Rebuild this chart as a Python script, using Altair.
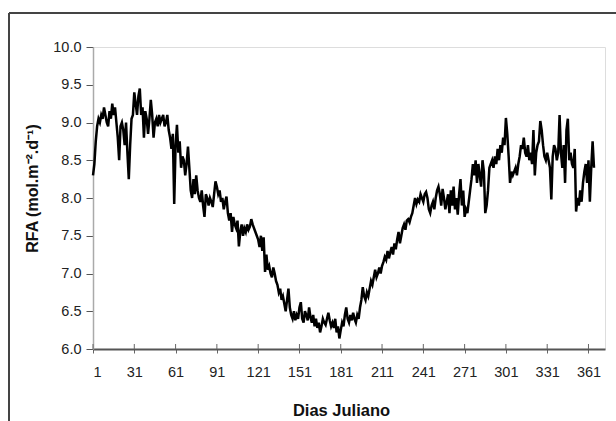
import altair as alt
import pandas as pd

# Daily photosynthetically active radiation (RFA), Julian days 1-365
rfa = [
    8.30, 8.45, 8.75, 8.95, 9.05, 9.00, 9.10, 9.05, 9.20, 9.10,
    9.00, 8.95, 9.15, 9.05, 9.25, 9.10, 9.20, 9.00, 8.80, 8.50,
    8.95, 9.00, 8.90, 8.70, 9.00, 8.60, 8.25, 8.70, 9.05, 9.10,
    9.40, 9.25, 9.10, 9.35, 9.45, 9.10, 9.20, 8.80, 9.15, 9.05,
    8.85, 9.05, 9.30, 9.10, 8.80, 9.00, 9.05, 8.95, 9.10, 9.00,
    9.05, 9.10, 8.95, 9.00, 9.10, 8.90, 8.80, 8.65, 8.85, 7.92,
    8.70, 8.97, 8.60, 8.75, 8.40, 8.55, 8.50, 8.30, 8.45, 8.68,
    8.40, 8.10, 8.00, 8.25, 8.05, 8.30, 8.10, 8.00, 7.95, 8.10,
    7.90, 7.75, 8.05, 8.00, 7.90, 8.00, 7.95, 7.88, 8.05, 8.22,
    8.15, 8.05, 8.10, 7.95, 8.00, 7.85, 7.95, 8.02, 7.80, 7.70,
    7.80, 7.55, 7.75, 7.65, 7.60, 7.70, 7.36, 7.55, 7.65, 7.50,
    7.60, 7.55, 7.65, 7.58, 7.62, 7.72, 7.65, 7.60, 7.55, 7.50,
    7.45, 7.35, 7.50, 7.30, 7.48, 7.02, 7.25, 7.05, 7.10, 7.00,
    6.95, 7.08, 7.00, 6.90, 6.85, 6.75, 6.80, 6.65, 6.70, 6.60,
    6.50, 6.65, 6.80, 6.55, 6.45, 6.40, 6.50, 6.38, 6.45, 6.40,
    6.55, 6.62, 6.40, 6.35, 6.50, 6.45, 6.38, 6.55, 6.42, 6.35,
    6.45, 6.30, 6.40, 6.28, 6.35, 6.22, 6.30, 6.40, 6.35, 6.32,
    6.40, 6.48, 6.38, 6.30, 6.35, 6.28, 6.40, 6.22, 6.30, 6.14,
    6.25, 6.35, 6.30, 6.45, 6.55, 6.40, 6.35, 6.45, 6.38, 6.48,
    6.40, 6.35, 6.45, 6.40, 6.55, 6.65, 6.82, 6.70, 6.65, 6.75,
    6.70, 6.80, 6.90, 6.85, 6.95, 7.05, 6.95, 7.00, 7.08, 7.00,
    7.10, 7.15, 7.22, 7.18, 7.30, 7.20, 7.28, 7.35, 7.25, 7.40,
    7.32, 7.45, 7.55, 7.40, 7.50, 7.60, 7.65, 7.58, 7.70, 7.72,
    7.68, 7.75, 7.80, 7.90, 8.00, 7.92, 7.98, 7.95, 8.05, 8.00,
    7.95, 8.05, 8.08, 8.00, 7.85, 7.80, 7.90, 7.95, 7.85, 8.00,
    8.10, 8.15, 8.05, 7.90, 8.12, 8.00, 7.85, 7.95, 8.05, 7.80,
    8.10, 7.90, 8.15, 7.85, 8.00, 7.78, 8.05, 8.25, 7.90, 8.10,
    7.75, 7.85, 7.80, 7.95, 8.10, 8.25, 8.45, 8.30, 8.50, 8.20,
    8.45, 8.30, 8.15, 8.50, 8.35, 7.80, 7.90, 8.10, 8.40, 8.45,
    8.50, 8.40, 8.55, 8.45, 8.65, 8.50, 8.70, 8.60, 8.80, 8.70,
    9.06, 8.85, 8.55, 8.20, 8.35, 8.30, 8.35, 8.40, 8.30, 8.45,
    8.55, 8.70, 8.65, 8.80, 8.60, 8.55, 8.70, 8.50, 8.60, 8.45,
    8.90, 8.30, 8.60, 8.70, 8.75, 9.02, 8.90, 8.70, 8.55, 8.50,
    8.60, 8.50, 8.40, 7.98, 8.55, 8.70, 8.65, 8.50, 8.60, 9.10,
    8.60, 8.40, 8.70, 8.20, 8.90, 9.05, 8.50, 8.60, 8.45, 8.40,
    8.65, 7.82, 8.00, 7.90, 8.10, 7.95, 8.20, 8.35, 8.45, 8.20,
    8.50, 7.95, 8.40, 8.75, 8.40,
]
days = list(range(1, len(rfa) + 1))
x_ticks = list(range(1, 362, 30))
y_ticks = [6.0, 6.5, 7.0, 7.5, 8.0, 8.5, 9.0, 9.5, 10.0]

df = pd.DataFrame({"dia": days, "rfa": rfa})
ticks_df = pd.DataFrame({"dia": x_ticks})

FONT = "Liberation Sans"
x_scale = alt.Scale(domain=[1, 373], nice=False, zero=False)
y_scale = alt.Scale(domain=[6.0, 10.0], nice=False, zero=False)

line = alt.Chart(df).mark_line(color="black", strokeWidth=2.5).encode(
    x=alt.X(
        "dia:Q",
        scale=x_scale,
        axis=alt.Axis(
            values=x_ticks,
            title="Dias Juliano",
            titleFontSize=16.5,
            titleFontWeight="bold",
            titleColor="#111",
            titlePadding=24,
            titleX=248,
            labelFontSize=14.5,
            labelColor="#222",
            labelPadding=12,
            labelOverlap=False,
            domainColor="#555",
            domainWidth=2,
            tickColor="#666",
            tickSize=4,
            grid=False,
        ),
    ),
    y=alt.Y(
        "rfa:Q",
        scale=y_scale,
        axis=alt.Axis(
            values=y_ticks,
            tickCount=9,
            format=".1f",
            title="RFA (mol.m⁻².d⁻¹)",
            titleFontSize=16,
            titleFontWeight="bold",
            titleColor="#111",
            titlePadding=12,
            titleY=141,
            labelFontSize=14.5,
            labelColor="#222",
            labelPadding=5,
            labelOverlap=False,
            domainColor="#aaa",
            domainWidth=1.5,
            tickColor="#555",
            tickSize=7,
            grid=False,
        ),
    ),
)

# upper half of the crossing tick marks on the day axis
inner_ticks = alt.Chart(ticks_df).mark_rule(color="#666", strokeWidth=1).encode(
    x=alt.X("dia:Q", scale=x_scale),
    y=alt.value(302),
    y2=alt.value(297),
)

# outer frame around the figure (left and top edges)
frame_left = alt.Chart(ticks_df).mark_rule(color="#444", strokeWidth=2).encode(
    x=alt.value(-84), y=alt.value(-34), y2=alt.value(380)
)
frame_top = alt.Chart(ticks_df).mark_rule(color="#444", strokeWidth=2).encode(
    x=alt.value(-84), x2=alt.value(530), y=alt.value(-34)
)

chart = (
    alt.layer(line, inner_ticks, frame_left, frame_top)
    .properties(
        width=512,
        height=302,
        padding={"left": 93, "top": 47, "right": 11, "bottom": 72},
        autosize="none",
    )
    .configure_view(stroke=None)
    .configure_axisY(labelOverlap=False)
    .configure(font=FONT)
)

chart.save("out.html", embed_options={"renderer": "svg", "actions": False})
